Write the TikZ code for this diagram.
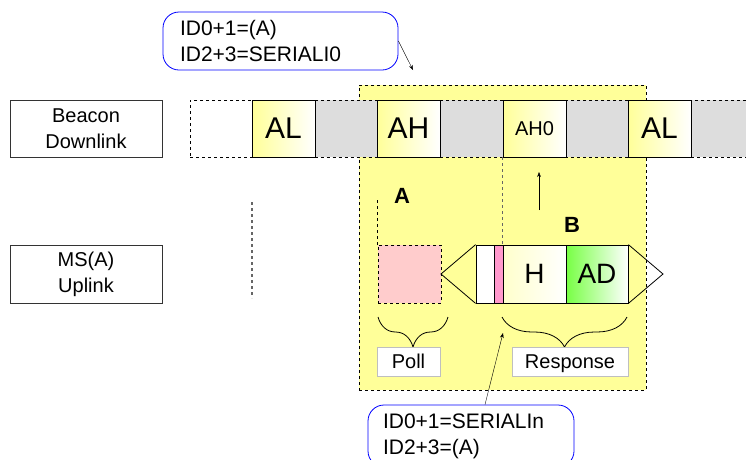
\documentclass[tikz,border=0pt]{standalone}
\usepackage{fontspec}
\setmainfont{Liberation Sans}
\usepackage{xcolor}
\usetikzlibrary{arrows.meta,decorations.pathreplacing}
\definecolor{PaleYellow}{HTML}{FFFF99}
\definecolor{SlotGray}{HTML}{DDDDDD}
\definecolor{PollPink}{HTML}{FFCCCC}
\definecolor{BarPink}{HTML}{FF99CC}
\definecolor{AdGreen}{HTML}{77FF44}
\newcommand{\txtsize}[2]{\fontsize{#1}{#2}\selectfont}

\begin{document}
\begin{tikzpicture}[x=1pt,y=-1pt,
  lbl/.style={draw=black!80,line width=0.9pt,minimum width=152,minimum height=57,inner sep=0,align=center,font=\txtsize{20}{26}},
  slot/.style={draw,line width=0.8pt,minimum width=63,minimum height=57,inner sep=0,left color=PaleYellow,right color=white,font=\txtsize{30}{30}},
  gap/.style={draw,dashed,line width=0.7pt,fill=SlotGray,minimum width=63,minimum height=57,inner sep=0},
  pkt/.style={draw,line width=0.8pt,minimum height=58,inner sep=0,font=\txtsize{28}{28}},
  callout/.style={draw=blue,line width=0.8pt,rounded corners=16pt,align=left,inner sep=0,font=\txtsize{21}{26}},
  tag/.style={draw=black!25,line width=0.9pt,fill=white,minimum height=29,inner sep=0,text depth=0pt,font=\txtsize{20}{20}},
  marker/.style={dashed,black!60,line width=1.2pt},
  brc/.style={decorate,decoration={brace,mirror,amplitude=30pt},line width=0.8pt}]
  \useasboundingbox (0,0) rectangle (746,459);
  \clip (0,0) rectangle (746,459);
  \node[draw,dashed,line width=0.7pt,fill=PaleYellow,minimum width=287,minimum height=305,inner sep=0] (win) at (502.5,237.5) {};
  \node[lbl] (down) at (86,128.5) {Beacon\\Downlink};
  \node[lbl,minimum height=58] (up) at (86,274) {MS(A)\\Uplink};
  \node[gap,fill=white,minimum width=62] (s0) at (221,128.5) {};
  \node[gap] (g1) at (346,128.5) {};
  \node[gap] (g2) at (471.5,128.5) {};
  \node[gap] (g3) at (596.5,128.5) {};
  \node[gap,minimum width=80] (g4) at (731,128.5) {};
  \node[slot] (al1) at (283.5,128.5) {AL};
  \node[slot] (ah) at (408.5,128.5) {AH};
  \node[slot,font=\txtsize{20}{20}] (ah0) at (534.5,128.5) {AH0};
  \node[slot] (al2) at (659.5,128.5) {AL};
  \node[draw,dashed,line width=0.7pt,fill=PollPink,minimum width=63,minimum height=58,inner sep=0] (poll) at (409.5,274) {};
  \node[pkt,fill=white,minimum width=18] (pw) at (485,274) {};
  \node[pkt,fill=BarPink,minimum width=9] (pb) at (498.5,274) {};
  \node[pkt,left color=PaleYellow!50,right color=white,minimum width=63] (ph) at (534.5,274) {H};
  \node[pkt,left color=AdGreen,right color=white,minimum width=62] (pad) at (597,274) {AD};
  \draw[line width=0.8pt] (pw.north west) -- (441,274) -- (pw.south west);
  \draw[line width=0.8pt] (pad.north east) -- (663,274) -- (pad.south east);
  \draw[marker] (252,202) -- (252,298);
  \draw[dashed,line width=0.7pt] (poll.north west) -- ++(0,-45);
  \draw[marker] (ah0.south west) -- (ph.north west);
  \coordinate (up0) at (539,210);
  \coordinate (up1) at (539,172);
  \draw[-{Stealth[length=5pt]}] (up0) -- (up1);
  \node[font=\bfseries\txtsize{22}{22}] (la) at (402,196) {A};
  \node[font=\bfseries\txtsize{22}{22}] (lb) at (572,225) {B};
  \draw[brc] (378,317) -- (448,317);
  \draw[brc] (502,317) -- (627,317);
  \node[tag,minimum width=63] (tpoll) at (408.5,361.5) {Poll};
  \node[tag,minimum width=116] (tresp) at (570,361.5) {Response};
  \node[callout,minimum width=235,minimum height=58,text width=201] (calltop) at (280.5,41) {ID0+1=(A)\\ID2+3=SERIALI0};
  \coordinate (toptip) at (413,70);
  \draw[-{Stealth[length=5pt]}] (calltop.east) -- (toptip);
  \node[callout,minimum width=206,minimum height=62,text width=176] (callbot) at (471,436) {ID0+1=SERIALIn\\ID2+3=(A)};
  \coordinate (resptip) at (503,333);
  \draw[-{Stealth[length=5pt]}] (callbot.66) -- (resptip);
\end{tikzpicture}
\end{document}
